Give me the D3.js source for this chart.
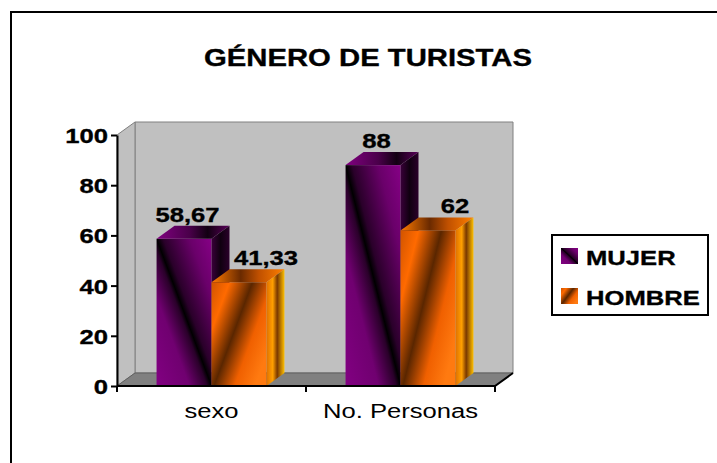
<!DOCTYPE html>
<html>
<head>
<meta charset="utf-8">
<style>
body { margin: 0; background: #fff; }
svg { display: block; }
text { font-family: Arial, "Liberation Sans", sans-serif; fill: #000; }
</style>
</head>
<body>
<svg width="717" height="463"></svg>
<script src="https://d3js.org/d3.v7.min.js"></script>
<script>

// data
var categories = ["sexo", "No. Personas"];
var series = ["MUJER", "HOMBRE"];
var mujer = [58.67, 88];
var hombre = [41.33, 62];
var yTicks = [0, 20, 40, 60, 80, 100];
var title = "GÉNERO DE TURISTAS";

var values = { MUJER: mujer, HOMBRE: hombre };

var svg = d3.select("svg");
var sx = 1.22; // text in the original is stretched sideways

var plotLeft = 117, plotRight = 495, plotTop = 135, plotBottom = 386;
var dx = 18, dy = 13;

var es = d3.formatLocale({ decimal: ",", thousands: ".", grouping: [3], currency: ["", "€"] });
var fmt = es.format(".2~f");

var y = d3.scaleLinear().domain([0, 100]).range([plotBottom, plotTop]);
var x0 = d3.scaleBand().domain(categories).range([plotLeft, plotRight]);
var x1 = d3.scaleBand().domain(series).range([0, x0.bandwidth()]).paddingOuter(0.72);

function txt(g, x, yy, s, size, weight, anchor) {
  var t = g.append("text")
    .attr("transform", "translate(" + x + "," + yy + ") scale(" + sx + ",1)")
    .attr("text-anchor", anchor || "middle")
    .style("font-size", size + "px")
    .style("font-weight", weight)
    .text(s);
  if (weight == "bold") t.attr("stroke", "#000").attr("stroke-width", 0.35);
  return t;
}

// gradients
var defs = svg.append("defs");
function grad(id, ax, ay, bx, by, stops) {
  var g = defs.append("linearGradient").attr("id", id)
    .attr("x1", ax).attr("y1", ay).attr("x2", bx).attr("y2", by);
  stops.forEach(function(s) {
    g.append("stop").attr("offset", s[0]).attr("stop-color", s[1]);
  });
}
grad("MUJER-front", 0, 1, 1, 0, [[0, "#820082"], [0.3, "#700070"], [0.46, "#2a002a"], [0.5, "#000"], [0.56, "#2a002a"], [0.8, "#6a006a"], [1, "#860086"]]);
grad("MUJER-top", 0, 0, 1, 0, [[0, "#800080"], [0.45, "#4a004a"], [0.7, "#120012"], [1, "#5a005a"]]);
grad("MUJER-side", 0, 0, 1, 0, [[0, "#3a003a"], [0.5, "#100010"], [1, "#2a002a"]]);
grad("HOMBRE-front", 0, 0, 1, 0.7, [[0, "#d05400"], [0.22, "#ff6a00"], [0.5, "#5a2600"], [0.75, "#f06000"], [1, "#ff7a10"]]);
grad("HOMBRE-top", 0, 0, 1, 0, [[0, "#ff7a00"], [0.4, "#6a2a00"], [0.65, "#c05000"], [1, "#ff8000"]]);
grad("HOMBRE-side", 0, 0, 1, 0, [[0, "#e07000"], [0.35, "#ffa000"], [0.6, "#7a3800"], [1, "#ffc000"]]);

// outer frame (only top and left edges show)
svg.append("path").attr("d", "M11,463V12H717").attr("fill", "none").attr("stroke", "#000").attr("stroke-width", 2);

txt(svg, 368, 66, title, 24, "bold");

// walls and floor
var walls = svg.append("g");
walls.append("path")
  .attr("d", "M" + (plotLeft + dx) + "," + (plotTop - dy) + "H" + (plotRight + dx) + "V" + (plotBottom - dy) + "H" + (plotLeft + dx) + "Z")
  .attr("fill", "#c0c0c0").attr("stroke", "#808080");
walls.append("path")
  .attr("d", "M" + plotLeft + "," + plotTop + "L" + (plotLeft + dx) + "," + (plotTop - dy) + "V" + (plotBottom - dy) + "L" + plotLeft + "," + plotBottom + "Z")
  .attr("fill", "#c0c0c0").attr("stroke", "#808080");
walls.append("path")
  .attr("d", "M" + plotLeft + "," + plotBottom + "L" + (plotLeft + dx) + "," + (plotBottom - dy) + "H" + (plotRight + dx) + "L" + plotRight + "," + plotBottom + "Z")
  .attr("fill", "#808080").attr("stroke", "#606060");

// bars
var bars = svg.append("g");
categories.forEach(function(c, i) {
  series.forEach(function(s) {
    var v = values[s][i];
    var bx = x0(c) + x1(s), w = x1.bandwidth();
    var yt = y(v), yb = y(0);
    var g = bars.append("g");
    g.append("rect").attr("x", bx).attr("y", yt).attr("width", w).attr("height", yb - yt)
      .attr("fill", "url(#" + s + "-front)");
    g.append("path")
      .attr("d", "M" + bx + "," + yt + "L" + (bx + dx) + "," + (yt - dy) + "H" + (bx + w + dx) + "L" + (bx + w) + "," + yt + "Z")
      .attr("fill", "url(#" + s + "-top)");
    g.append("path")
      .attr("d", "M" + (bx + w) + "," + yt + "L" + (bx + w + dx) + "," + (yt - dy) + "V" + (yb - dy) + "L" + (bx + w) + "," + yb + "Z")
      .attr("fill", "url(#" + s + "-side)");
  });
});

// axes
var yAxis = svg.append("g")
  .attr("transform", "translate(" + plotLeft + ",0)")
  .call(d3.axisLeft(y).tickValues(yTicks).tickSize(6).tickSizeOuter(0));
yAxis.select(".domain").attr("stroke", "#000").attr("stroke-width", 2);
yAxis.selectAll(".tick line").attr("stroke", "#000").attr("stroke-width", 2);
yAxis.selectAll(".tick text")
  .attr("x", null).attr("dy", null)
  .attr("transform", "translate(-9,7.5) scale(" + sx + ",1)")
  .style("font-size", "21px").style("font-weight", "bold")
  .style("font-family", "Arial, 'Liberation Sans', sans-serif")
  .attr("fill", "#000").attr("stroke", "#000").attr("stroke-width", 0.35);

var xAxis = svg.append("g")
  .attr("transform", "translate(0," + plotBottom + ")")
  .call(d3.axisBottom(x0).tickSize(0).tickSizeOuter(0));
xAxis.select(".domain").remove();
xAxis.selectAll(".tick text")
  .attr("y", null).attr("dy", null)
  .attr("transform", "translate(0,32) scale(" + sx + ",1)")
  .style("font-size", "21px")
  .style("font-family", "Arial, 'Liberation Sans', sans-serif").attr("fill", "#000");

svg.append("path")
  .attr("d", "M" + plotLeft + "," + plotBottom + "H" + plotRight + "L" + (plotRight + dx) + "," + (plotBottom - dy))
  .attr("fill", "none").attr("stroke", "#000").attr("stroke-width", 2);
var bounds = categories.map(function(c) { return x0(c); }).concat([plotRight]);
svg.append("g").selectAll("line").data(bounds).join("line")
  .attr("x1", function(d) { return d; }).attr("x2", function(d) { return d; })
  .attr("y1", plotBottom).attr("y2", plotBottom + 6)
  .attr("stroke", "#000").attr("stroke-width", 2);

// data labels
var labelShift = { MUJER: 3.5, HOMBRE: 27 };
var lab = svg.append("g");
categories.forEach(function(c, i) {
  series.forEach(function(s) {
    var v = values[s][i];
    var cx = x0(c) + x1(s) + x1.bandwidth() / 2 + labelShift[s];
    txt(lab, cx, y(v) - 17, fmt(v), 21, "bold");
  });
});

// legend
var leg = svg.append("g");
leg.append("rect").attr("x", 552).attr("y", 235).attr("width", 156).attr("height", 80)
  .attr("fill", "#fff").attr("stroke", "#000").attr("stroke-width", 2);
series.forEach(function(s, i) {
  var ly = 248 + i * 40;
  leg.append("rect").attr("x", 561).attr("y", ly).attr("width", 17).attr("height", 16)
    .attr("fill", "url(#" + s + "-front)");
  txt(leg, 586, ly + 16.5, s, 21, "bold", "start");
});

</script>
</body>
</html>
